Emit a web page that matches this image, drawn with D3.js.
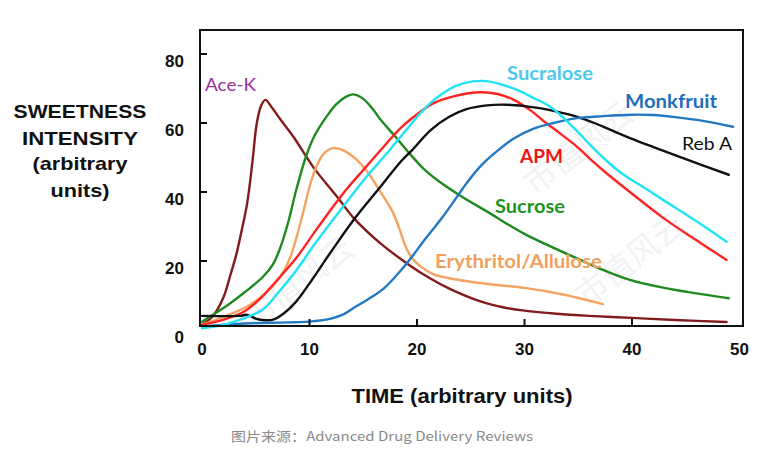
<!DOCTYPE html>
<html><head><meta charset="utf-8">
<script src="https://cdn.jsdelivr.net/npm/d3@7"></script>
<style>body{margin:0;background:#fff}svg{display:block}</style>
</head><body>
<svg id="c" width="773" height="450"></svg>
<script>
// ---- data (time, intensity) ----
const aceK_t = [0,1,2,2.6,3.2,3.7,4.2,4.7,5.1,5.5,5.9,6.5,7.3,8.5,10.4,12.6,14.1,16.6,19.3,21.2,23,25.9,28,30,33,36,40,44,48.8];
const aceK_v = [1.5,4,9.5,15.5,22,29,36.7,49,60,65,66.7,64.5,61,56,47,38.5,32.5,25.1,18.8,15,12,8.3,6.6,5.6,4.7,4.1,3.5,2.9,2.3];
const sucrose_t = [0,1.3,2.6,4,5.7,6.6,7.3,8,8.8,9.7,10.5,11.5,12.5,13.5,14.1,15,15.9,16.6,18,19.3,20.6,22,24,26.8,29.9,34.2,37,39.8,43,46,49];
const sucrose_v = [2.4,5,7.7,11,15.5,19,24,31,41,50.5,56.5,61.5,65.5,67.8,68.3,67,64,61,56,51.2,46.8,43.2,39,33.8,28,21.7,17.8,14.5,12.2,10.6,9.2];
const eryth_t = [0,2,4.2,6,7.3,8.2,8.8,9.4,10,10.6,11.3,12.2,13.2,14.4,15.4,16.3,17.1,17.8,18.4,18.9,19.5,20.3,21.5,23,25,27,30,33.6,37.3];
const eryth_v = [1.5,3.8,6.8,11,15.5,21,27,34,41.5,47,51,52.7,52,49.3,45.8,41.5,37.6,33.8,29,24.5,21,18.5,16.2,15,14,13.2,12.2,10.3,7.5];
const apm_t = [0,2,4,5.7,7,8.8,10.5,11.9,13.5,15,17,18.4,19.5,21.5,23.5,25.9,27.5,29,30.5,31.8,33.3,34.9,36.3,37.6,39.8,42.9,46,48.8];
const apm_v = [1.5,3,5.5,10,14.5,21,28.5,34.5,41,46.4,53.5,58.3,61.3,65.7,67.8,68.9,68.4,66.7,63.8,60.5,57,53.1,49,45.5,40,32.5,26,20.3];
const sucralose_t = [0,2,4,5.7,7,8.8,10.5,12.2,13.8,15.3,17,19,20.3,21.5,23,24.3,26.2,27.7,29.3,30.8,32.4,34.5,36,37.3,39,41,43,46,48.8];
const sucralose_v = [0.5,1.5,3.5,6,10.5,17.4,25,32,38.5,44.4,50.5,58,62.8,66.5,69.8,71.5,72.2,71.3,69.6,67.3,64.7,58.9,54,50,45.5,41.5,37.5,31.5,25.6];
const rebA_t = [0,3.5,4.2,5,5.6,6.6,7.6,8.7,10,11.9,14.1,16.6,18.4,19.5,21.3,23,24.6,26.5,28.3,30,31.4,33,34.9,36.5,38,40,42,45,49];
const rebA_v = [4.1,4.1,4.4,3.3,2.9,3,4.8,8,13.5,22.2,31.9,41.5,48.5,52,58,61.8,64,65.1,65.3,64.9,64.3,63.3,61.8,60,58,55.4,53,49.5,45];
const monk_t = [0,4,8,10.2,12,13.2,14.2,15.5,16.9,18,19.3,20.8,22.4,23.7,24.6,26,27.7,29,30.8,32.7,34.9,37.3,40,42,44,46.6,49.4];
const monk_v = [1,1.9,2.2,2.5,3.3,4.6,6.6,9,12,15.5,20.3,26.5,32.8,38.5,42.5,47.8,52.5,55.5,58.3,60,61.4,62,62.4,62.3,61.7,60.6,58.9];

const seriesNames = ["Ace-K","Sucrose","Erythritol/Allulose","APM","Sucralose","Reb A","Monkfruit"];
const xTicks = [0,10,20,30,40,50];
const yTicks = [0,20,40,60,80];
const yTitle = ["SWEETNESS","INTENSITY","(arbitrary","units)"];
const xTitle = "TIME (arbitrary units)";
const caption = "图片来源：Advanced Drug Delivery Reviews";
const watermark = "市值风云";

// ---- drawing ----
const svg = d3.select("#c");
const x = d3.scaleLinear().domain([0,50]).range([202,739.5]);
const y = d3.scaleLinear().domain([0,80]).range([330,54]);
const box = {l:200, r:743, t:30, b:326};

// faint watermark
const wm = [[300,285],[580,150],[632,262]];
svg.append("g").selectAll("text").data(wm).join("text")
  .attr("transform", d => `translate(${d[0]},${d[1]}) rotate(-38)`)
  .attr("text-anchor","middle").attr("dominant-baseline","middle")
  .attr("font-family","Noto Sans CJK SC").attr("font-size",32)
  .attr("fill","#f2f2f2").text(watermark);

const series = [
  {t:aceK_t, v:aceK_v, c:"#821c1c"},
  {t:sucrose_t, v:sucrose_v, c:"#1f8a1f"},
  {t:eryth_t, v:eryth_v, c:"#f4a460"},
  {t:apm_t, v:apm_v, c:"#ff2424"},
  {t:rebA_t, v:rebA_v, c:"#111111"},
  {t:monk_t, v:monk_v, c:"#2378c4"},
  {t:sucralose_t, v:sucralose_v, c:"#20e4f4"}
];
const line = d3.line().x(d=>x(d[0])).y(d=>y(d[1])).curve(d3.curveCatmullRom.alpha(0.5));
svg.append("g").selectAll("path").data(series).join("path")
  .attr("d", s => line(s.t.map((t,i)=>[t,s.v[i]])))
  .attr("fill","none").attr("stroke", s=>s.c).attr("stroke-width",2.4)
  .attr("stroke-linejoin","round").attr("stroke-linecap","round");

// frame
svg.append("rect").attr("x",box.l).attr("y",box.t).attr("width",box.r-box.l).attr("height",box.b-box.t)
  .attr("fill","none").attr("stroke","#111").attr("stroke-width",2);

// ticks
svg.append("g").selectAll("line").data(yTicks.filter(d=>d>0)).join("line")
  .attr("x1",box.l).attr("x2",box.l+7).attr("y1",d=>y(d)).attr("y2",d=>y(d))
  .attr("stroke","#111").attr("stroke-width",2);
svg.append("g").selectAll("line").data(xTicks.filter(d=>d>0&&d<50)).join("line")
  .attr("x1",d=>x(d)).attr("x2",d=>x(d)).attr("y1",box.b).attr("y2",box.b-7)
  .attr("stroke","#111").attr("stroke-width",2);

// tick labels
svg.append("g").selectAll("text").data(yTicks).join("text")
  .attr("x",184).attr("y",d=>y(d)+13).attr("text-anchor","end")
  .attr("font-family","Liberation Sans, Arial").attr("font-weight","bold").attr("font-size",17)
  .attr("fill","#111").text(d=>d);
svg.append("g").selectAll("text").data(xTicks).join("text")
  .attr("x",d=>x(d)).attr("y",355).attr("text-anchor","middle")
  .attr("font-family","Liberation Sans, Arial").attr("font-weight","bold").attr("font-size",17)
  .attr("fill","#111").text(d=>d);

// axis titles
const yBase = [118,145,170,197];
const yLen = [133,116,95,59];
svg.append("g").selectAll("text").data(yTitle).join("text")
  .attr("x",80).attr("y",(d,i)=>yBase[i]).attr("text-anchor","middle")
  .attr("font-family","Liberation Sans, Arial").attr("font-weight","bold").attr("font-size",19)
  .attr("textLength",(d,i)=>yLen[i]).attr("lengthAdjust","spacingAndGlyphs")
  .attr("fill","#111").text(d=>d);
svg.append("text").attr("x",462).attr("y",403).attr("text-anchor","middle")
  .attr("font-family","Liberation Sans, Arial").attr("font-weight","bold").attr("font-size",20)
  .attr("textLength",221).attr("lengthAdjust","spacingAndGlyphs")
  .attr("fill","#111").text(xTitle);

// series labels
const labels = [
  {n:seriesNames[0], x:205, y:91, c:"#9b319b", w:"normal", len:51},
  {n:seriesNames[4], x:507, y:80, c:"#4cc9ec", w:"bold", len:86},
  {n:seriesNames[6], x:625, y:108, c:"#1f6fb8", w:"bold", len:92},
  {n:seriesNames[5], x:682, y:150, c:"#111111", w:"normal", len:50},
  {n:seriesNames[3], x:520, y:163, c:"#ee1414", w:"bold", len:43},
  {n:seriesNames[1], x:495, y:213, c:"#229322", w:"bold", len:70},
  {n:seriesNames[2], x:435, y:268, c:"#f0a05c", w:"bold", len:167}
];
svg.append("g").selectAll("text").data(labels).join("text")
  .attr("x",d=>d.x).attr("y",d=>d.y).attr("fill",d=>d.c)
  .attr("font-family","Lato, Open Sans").attr("font-weight",d=>d.w).attr("font-size",18)
  .attr("textLength",d=>d.len).attr("lengthAdjust","spacingAndGlyphs")
  .text(d=>d.n);

// caption
svg.append("text").attr("x",231).attr("y",441)
  .attr("font-family","Noto Sans CJK SC, Noto Sans").attr("font-size",13)
  .attr("fill","#8a8a8a").attr("textLength",302).attr("lengthAdjust","spacingAndGlyphs").text(caption);
</script>
</body></html>
